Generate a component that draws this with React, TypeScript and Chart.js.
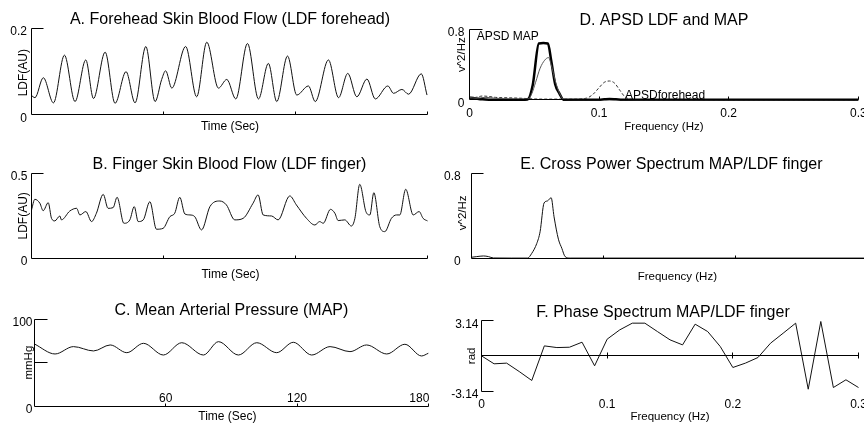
import React, { useEffect, useRef } from "react";
import { Chart, registerables } from "chart.js";
Chart.register(...registerables);

const FONT = '"Liberation Sans", Arial, Helvetica, sans-serif';

// ---------- Panel A: forehead LDF ----------
const aTime = [0, 1.8, 5.6, 10.2, 15.2, 20.0, 24.9, 28.4, 33.7, 38.2, 43.2, 47.3, 52.2, 56.4, 59.4, 61.2, 64.0, 70.3, 75.3, 79.9, 85.2, 89.0, 93.1, 98.4, 103.4, 107.9, 111.7, 116.6, 120.8, 126.1, 129.2, 135.2, 139.8, 144.0, 148.1, 152.7, 156.5, 162.2, 164.8, 168.6, 171.6, 177.4, 180];
const aFlow = [0.046, 0.040, 0.086, 0.028, 0.138, 0.031, 0.127, 0.038, 0.145, 0.027, 0.100, 0.028, 0.158, 0.031, 0.082, 0.102, 0.062, 0.158, 0.042, 0.168, 0.062, 0.082, 0.037, 0.165, 0.037, 0.119, 0.031, 0.136, 0.046, 0.067, 0.031, 0.127, 0.040, 0.096, 0.042, 0.083, 0.037, 0.067, 0.050, 0.059, 0.048, 0.095, 0.046];
const aYTicks = [0, 0.2];
const aYTickLabels = ["0", "0.2"];

// ---------- Panel B: finger LDF ----------
const bTime = [0, 1.5, 3.8, 5.3, 7.6, 9.1, 10.6, 12.9, 13.6, 17.4, 20.5, 22.0, 24.7, 27.3, 29.5, 32.6, 34.8, 37.1, 38.9, 42.0, 44.7, 46.7, 48.5, 50.8, 53.8, 56.8, 59.8, 62.9, 65.1, 67.4, 69.7, 72.0, 74.2, 77.3, 81.1, 85.6, 88.6, 92.4, 96.2, 100.7, 103.0, 105.3, 109.1, 112.1, 117.4, 120.4, 125.0, 128.8, 131.0, 132.6, 135.9, 137.9, 139.4, 142.4, 145.4, 147.0, 149.2, 152.0, 153.8, 155.6, 158.3, 160.6, 163.6, 165.9, 167.4, 170.1, 173.5, 176.2, 178.0, 180.0];
const bFlow = [0.284, 0.347, 0.324, 0.280, 0.327, 0.235, 0.220, 0.249, 0.226, 0.278, 0.294, 0.255, 0.275, 0.216, 0.265, 0.376, 0.294, 0.298, 0.359, 0.206, 0.226, 0.304, 0.216, 0.226, 0.333, 0.171, 0.176, 0.245, 0.265, 0.359, 0.261, 0.255, 0.245, 0.167, 0.304, 0.337, 0.314, 0.226, 0.235, 0.324, 0.373, 0.255, 0.249, 0.226, 0.367, 0.314, 0.235, 0.196, 0.216, 0.206, 0.288, 0.265, 0.222, 0.226, 0.190, 0.235, 0.435, 0.275, 0.255, 0.386, 0.186, 0.157, 0.235, 0.255, 0.255, 0.406, 0.255, 0.275, 0.235, 0.220];
const bYTicks = [0, 0.5];
const bYTickLabels = ["0", "0.5"];

// ---------- Panel C: MAP ----------
const cTime = [0, 9.4, 17.8, 27.0, 34.6, 42.2, 49.8, 58.9, 67.3, 77.2, 84.1, 93.2, 101.6, 110.7, 118.3, 126.7, 135.1, 144.2, 151.8, 161.0, 169.3, 176.9, 180];
const cMap = [71.5, 60, 68.5, 63.5, 70.4, 61.5, 72.3, 58.8, 73, 58.8, 74.2, 58.8, 73, 61.5, 73.5, 58.8, 68.5, 62.7, 70.4, 60, 71.2, 57.7, 60.8];
const cYTicks = [0, 100];
const cYTickLabels = ["0", "100"];
const timeTicks = [60, 120, 180];
const timeTickLabels = ["60", "120", "180"];

// ---------- Panel D: APSD ----------
const dFreqMap = [0, 0.003, 0.006, 0.01, 0.015, 0.02, 0.03, 0.04, 0.0447, 0.0488, 0.0535, 0.057, 0.0605, 0.063, 0.0661, 0.0695, 0.0725, 0.08, 0.1, 0.104, 0.108, 0.113, 0.118, 0.15, 0.2, 0.25, 0.3];
const dPowMap = [0.025, 0.022, 0.015, 0.008, 0.004, 0.003, 0.003, 0.003, 0.005, 0.17, 0.64, 0.645, 0.64, 0.45, 0.18, 0.07, 0.004, 0.003, 0.003, 0.008, 0.012, 0.008, 0.003, 0.002, 0.002, 0.002, 0.002];
const dFreqFinger = [0, 0.005, 0.012, 0.02, 0.03, 0.04, 0.045, 0.048, 0.051, 0.0545, 0.058, 0.061, 0.063, 0.0665, 0.07, 0.073, 0.08, 0.1, 0.15, 0.2, 0.3];
const dPowFinger = [0.03, 0.02, 0.03, 0.02, 0.012, 0.008, 0.01, 0.07, 0.2, 0.36, 0.45, 0.48, 0.4, 0.2, 0.06, 0.004, 0.003, 0.003, 0.002, 0.002, 0.002];
const dFreqForehead = [0, 0.005, 0.01, 0.015, 0.02, 0.03, 0.04, 0.05, 0.06, 0.07, 0.08, 0.09, 0.095, 0.1, 0.104, 0.108, 0.112, 0.116, 0.12, 0.125, 0.13, 0.15, 0.2, 0.3];
const dPowForehead = [0.02, 0.03, 0.045, 0.04, 0.03, 0.025, 0.02, 0.012, 0.01, 0.01, 0.01, 0.02, 0.06, 0.14, 0.2, 0.215, 0.19, 0.11, 0.035, 0.008, 0.003, 0.002, 0.002, 0.002];
const powYTicks = [0, 0.8];
const powYTickLabels = ["0", "0.8"];
const freqTicks = [0, 0.1, 0.2, 0.3];
const freqTickLabels = ["0", "0.1", "0.2", "0.3"];

// ---------- Panel E: cross power ----------
const eFreq = [0, 0.0038, 0.0089, 0.0127, 0.0165, 0.03, 0.0423, 0.0456, 0.0494, 0.0519, 0.0549, 0.0575, 0.0603, 0.0625, 0.0658, 0.0684, 0.0709, 0.0747, 0.1, 0.2, 0.3];
const ePow = [0.01, 0.016, 0.022, 0.016, 0.003, 0.002, 0.002, 0.047, 0.14, 0.25, 0.52, 0.54, 0.57, 0.39, 0.18, 0.094, 0.016, 0.002, 0.002, 0.002, 0.002];

// ---------- Panel F: phase ----------
const fFreq = [0, 0.01, 0.02, 0.03, 0.04, 0.05, 0.06, 0.07, 0.08, 0.09, 0.1, 0.11, 0.12, 0.13, 0.14, 0.15, 0.16, 0.17, 0.18, 0.19, 0.2, 0.21, 0.22, 0.23, 0.24, 0.25, 0.26, 0.27, 0.28, 0.29, 0.3];
const fPhase = [0, -0.71, -0.65, -1.4, -2.2, 0.89, 0.74, 0.77, 1.22, -0.89, 1.49, 2.32, 2.92, 2.92, 2.17, 1.43, 0.98, 2.83, 2.17, 0.83, -1.04, -0.65, -0.15, 1.13, 2.02, 2.92, -2.98, 3.07, -2.83, -2.14, -2.83];
const phaseYTicks = [-3.14, 3.14];
const phaseYTickLabels = ["-3.14", "3.14"];

const CW = 880;
const CH = 424;

type Series = { x: number[]; y: number[]; width: number; color: string; dash?: number[]; smooth: boolean };
type PanelCfg = {
  key: string;
  box: { L: number; R: number; T: number; B: number };
  xMin: number; xMax: number; yMin: number; yMax: number;
  series: Series[];
  title: string; titleDx: number;
  yTickMarks: number[]; yTickLen: number;
  yLabelVals: number[]; yLabelTexts: string[]; yLabelGap: number;
  yTitle: string; yTitleOff: number; yTitleDy: number; yTitleSize: number;
  xAxisAt: number; xTickMarks: number[]; xTickUp: number; xTickDown: number;
  xLabelVals: number[]; xLabelTexts: string[]; xLabelDy: number; lastLabelRight?: boolean;
  xTitle: string; xTitleDy: number; xTitleDx: number; xTitleSize: number;
  notes?: { x: number; y: number; text: string }[];
};

const panels: PanelCfg[] = [
  {
    key: "A", box: { L: 31, R: 427, T: 28.3, B: 115 },
    xMin: 0, xMax: 180, yMin: 0, yMax: 0.2,
    series: [{ x: aTime, y: aFlow, width: 1, color: "#111", smooth: true }],
    title: "A. Forehead Skin Blood Flow (LDF forehead)", titleDx: 1,
    yTickMarks: [0.2], yTickLen: 12,
    yLabelVals: aYTicks, yLabelTexts: aYTickLabels, yLabelGap: 4,
    yTitle: "LDF(AU)", yTitleOff: 7, yTitleDy: 1, yTitleSize: 12,
    xAxisAt: 0, xTickMarks: timeTicks, xTickUp: 3, xTickDown: 0,
    xLabelVals: [], xLabelTexts: [], xLabelDy: 0,
    xTitle: "Time (Sec)", xTitleDy: 15, xTitleDx: 1, xTitleSize: 12,
  },
  {
    key: "B", box: { L: 31.5, R: 427.5, T: 173.3, B: 258.3 },
    xMin: 0, xMax: 180, yMin: 0, yMax: 0.5,
    series: [{ x: bTime, y: bFlow, width: 1, color: "#111", smooth: true }],
    title: "B. Finger Skin Blood Flow (LDF finger)", titleDx: 0,
    yTickMarks: [0.5], yTickLen: 12,
    yLabelVals: bYTicks, yLabelTexts: bYTickLabels, yLabelGap: 4,
    yTitle: "LDF(AU)", yTitleOff: 7.5, yTitleDy: 0, yTitleSize: 12,
    xAxisAt: 0, xTickMarks: timeTicks, xTickUp: 3, xTickDown: 0,
    xLabelVals: [], xLabelTexts: [], xLabelDy: 0,
    xTitle: "Time (Sec)", xTitleDy: 20, xTitleDx: 1, xTitleSize: 12,
  },
  {
    key: "C", box: { L: 34.5, R: 428.3, T: 319.3, B: 406 },
    xMin: 0, xMax: 180, yMin: 0, yMax: 100,
    series: [{ x: cTime, y: cMap, width: 1, color: "#111", smooth: true }],
    title: "C. Mean Arterial Pressure (MAP)", titleDx: 0,
    yTickMarks: [50, 100], yTickLen: 13,
    yLabelVals: cYTicks, yLabelTexts: cYTickLabels, yLabelGap: 2,
    yTitle: "mmHg", yTitleOff: 5.5, yTitleDy: 0, yTitleSize: 11.5,
    xAxisAt: 0, xTickMarks: timeTicks, xTickUp: 3, xTickDown: 0,
    xLabelVals: timeTicks, xLabelTexts: timeTickLabels, xLabelDy: -5, lastLabelRight: true,
    xTitle: "Time (Sec)", xTitleDy: 14, xTitleDx: -4, xTitleSize: 12,
  },
  {
    key: "D", box: { L: 469.5, R: 858.3, T: 29.3, B: 100 },
    xMin: 0, xMax: 0.3, yMin: 0, yMax: 0.8,
    series: [
      { x: dFreqForehead, y: dPowForehead, width: 1, color: "#333", dash: [3, 2], smooth: true },
      { x: dFreqFinger, y: dPowFinger, width: 1, color: "#555", smooth: true },
      { x: dFreqMap, y: dPowMap, width: 2.5, color: "#000", smooth: true },
    ],
    title: "D. APSD LDF and MAP", titleDx: 0,
    yTickMarks: [0.8], yTickLen: 13,
    yLabelVals: powYTicks, yLabelTexts: powYTickLabels, yLabelGap: 5,
    yTitle: "v^2/Hz", yTitleOff: 7.5, yTitleDy: -10, yTitleSize: 11.5,
    xAxisAt: 0, xTickMarks: [0.1, 0.2, 0.3], xTickUp: 3, xTickDown: 0,
    xLabelVals: freqTicks, xLabelTexts: freqTickLabels, xLabelDy: 17,
    xTitle: "Frequency (Hz)", xTitleDy: 30, xTitleDx: 0, xTitleSize: 11.5,
    notes: [
      { x: 0.0055, y: 0.68, text: "APSD MAP" },
      { x: 0.12, y: 0.006, text: "APSDforehead" },
    ],
  },
  {
    key: "E", box: { L: 471.7, R: 867, T: 173.3, B: 258.3 },
    xMin: 0, xMax: 0.3, yMin: 0, yMax: 0.8,
    series: [{ x: eFreq, y: ePow, width: 1, color: "#111", smooth: true }],
    title: "E. Cross Power Spectrum MAP/LDF finger", titleDx: 2,
    yTickMarks: [0.8], yTickLen: 12,
    yLabelVals: powYTicks, yLabelTexts: powYTickLabels, yLabelGap: 11,
    yTitle: "v^2/Hz", yTitleOff: 9, yTitleDy: -3, yTitleSize: 11.5,
    xAxisAt: 0, xTickMarks: [0.1, 0.2], xTickUp: 3, xTickDown: 0,
    xLabelVals: [], xLabelTexts: [], xLabelDy: 0,
    xTitle: "Frequency (Hz)", xTitleDy: 22, xTitleDx: 8, xTitleSize: 11.5,
  },
  {
    key: "F", box: { L: 481.5, R: 858.5, T: 320.7, B: 391 },
    xMin: 0, xMax: 0.3, yMin: -3.14, yMax: 3.14,
    series: [{ x: fFreq, y: fPhase, width: 1, color: "#111", smooth: false }],
    title: "F. Phase Spectrum MAP/LDF finger", titleDx: -7,
    yTickMarks: [-3.14, 3.14], yTickLen: 12,
    yLabelVals: phaseYTicks, yLabelTexts: phaseYTickLabels, yLabelGap: 3,
    yTitle: "rad", yTitleOff: 10, yTitleDy: 0, yTitleSize: 11.5,
    xAxisAt: 0, xTickMarks: [0.1, 0.2, 0.3], xTickUp: 3, xTickDown: 3,
    xLabelVals: freqTicks, xLabelTexts: freqTickLabels, xLabelDy: 999,
    xTitle: "Frequency (Hz)", xTitleDy: 29, xTitleDx: 0, xTitleSize: 11.5,
  },
];

function zip(xs: number[], ys: number[]) {
  return xs.map((x, i) => ({ x, y: ys[i] }));
}

function axesPlugin(p: PanelCfg) {
  return {
    id: "matlabAxes" + p.key,
    afterDatasetsDraw(chart: any) {
      const ctx: CanvasRenderingContext2D = chart.ctx;
      const ca = chart.chartArea;
      const xs = chart.scales.x;
      const ys = chart.scales.y;
      const px = (v: number) => xs.getPixelForValue(v);
      const py = (v: number) => ys.getPixelForValue(v);
      const r = (v: number) => Math.round(v - 0.5) + 0.5;
      ctx.save();
      ctx.strokeStyle = "#000";
      ctx.fillStyle = "#000";
      ctx.lineWidth = 1;
      ctx.setLineDash([]);
      const ax = r(ca.left);
      const ay = r(py(p.xAxisAt));
      ctx.beginPath();
      ctx.moveTo(ax, r(py(p.yMin)));
      ctx.lineTo(ax, r(py(p.yMax)));
      for (const v of p.yTickMarks) {
        ctx.moveTo(ax, r(py(v)));
        ctx.lineTo(ax + p.yTickLen, r(py(v)));
      }
      ctx.moveTo(ax, ay);
      ctx.lineTo(r(ca.right), ay);
      for (const v of p.xTickMarks) {
        ctx.moveTo(r(px(v)), ay + p.xTickDown);
        ctx.lineTo(r(px(v)), ay - p.xTickUp);
      }
      ctx.stroke();

      ctx.font = `16px ${FONT}`;
      ctx.textAlign = "center";
      ctx.textBaseline = "alphabetic";
      ctx.fillText(p.title, (ca.left + ca.right) / 2 + p.titleDx, ca.top - 4);

      ctx.font = `12px ${FONT}`;
      ctx.textAlign = "right";
      p.yLabelVals.forEach((v, i) => {
        ctx.fillText(p.yLabelTexts[i], ca.left - p.yLabelGap, py(v) + 6.8);
      });

      p.xLabelVals.forEach((v, i) => {
        const last = i === p.xLabelVals.length - 1;
        ctx.textAlign = last && p.lastLabelRight ? "right" : "center";
        const x = last && p.lastLabelRight ? px(v) + 1 : px(v);
        const y = p.xLabelDy === 999 ? ca.bottom + 17 : ay + p.xLabelDy;
        ctx.fillText(p.xLabelTexts[i], x, y);
      });

      ctx.font = `${p.xTitleSize}px ${FONT}`;
      ctx.textAlign = "center";
      ctx.fillText(p.xTitle, (ca.left + ca.right) / 2 + p.xTitleDx, ca.bottom + p.xTitleDy);

      if (p.notes) {
        ctx.font = `12px ${FONT}`;
        ctx.textAlign = "left";
        for (const n of p.notes) ctx.fillText(n.text, px(n.x), py(n.y));
      }

      ctx.font = `${p.yTitleSize}px ${FONT}`;
      ctx.translate(ca.left - p.yTitleOff, (ca.top + ca.bottom) / 2 + p.yTitleDy);
      ctx.rotate(-Math.PI / 2);
      ctx.textAlign = "center";
      ctx.textBaseline = "middle";
      ctx.fillText(p.yTitle, 0, 0);
      ctx.restore();
    },
  };
}

function Panel({ p }: { p: PanelCfg }) {
  const ref = useRef<HTMLCanvasElement>(null);
  useEffect(() => {
    const chart = new Chart(ref.current as HTMLCanvasElement, {
      type: "line",
      data: {
        datasets: p.series.map((s) => ({
          data: zip(s.x, s.y),
          borderColor: s.color,
          borderWidth: s.width,
          borderDash: s.dash || [],
          pointRadius: 0,
          fill: false,
          tension: s.smooth ? 0.4 : 0,
          cubicInterpolationMode: s.smooth ? "monotone" : "default",
          clip: false,
        })) as any,
      },
      options: {
        animation: false,
        responsive: false,
        events: [],
        layout: {
          autoPadding: false,
          padding: { left: p.box.L, right: CW - p.box.R, top: p.box.T, bottom: CH - p.box.B },
        },
        plugins: { legend: { display: false }, tooltip: { enabled: false }, title: { display: false } },
        scales: {
          x: { type: "linear", min: p.xMin, max: p.xMax, display: false },
          y: { type: "linear", min: p.yMin, max: p.yMax, display: false },
        },
      } as any,
      plugins: [axesPlugin(p)],
    });
    return () => chart.destroy();
  }, [p]);
  return (
    <canvas
      ref={ref}
      width={CW}
      height={CH}
      style={{ position: "absolute", left: 0, top: 0, width: CW, height: CH }}
    />
  );
}

export default function App() {
  return (
    <div
      style={{
        position: "absolute",
        left: 0,
        top: 0,
        width: 864,
        height: 424,
        overflow: "hidden",
        background: "#fff",
      }}
    >
      {panels.map((p) => (
        <Panel key={p.key} p={p} />
      ))}
    </div>
  );
}
